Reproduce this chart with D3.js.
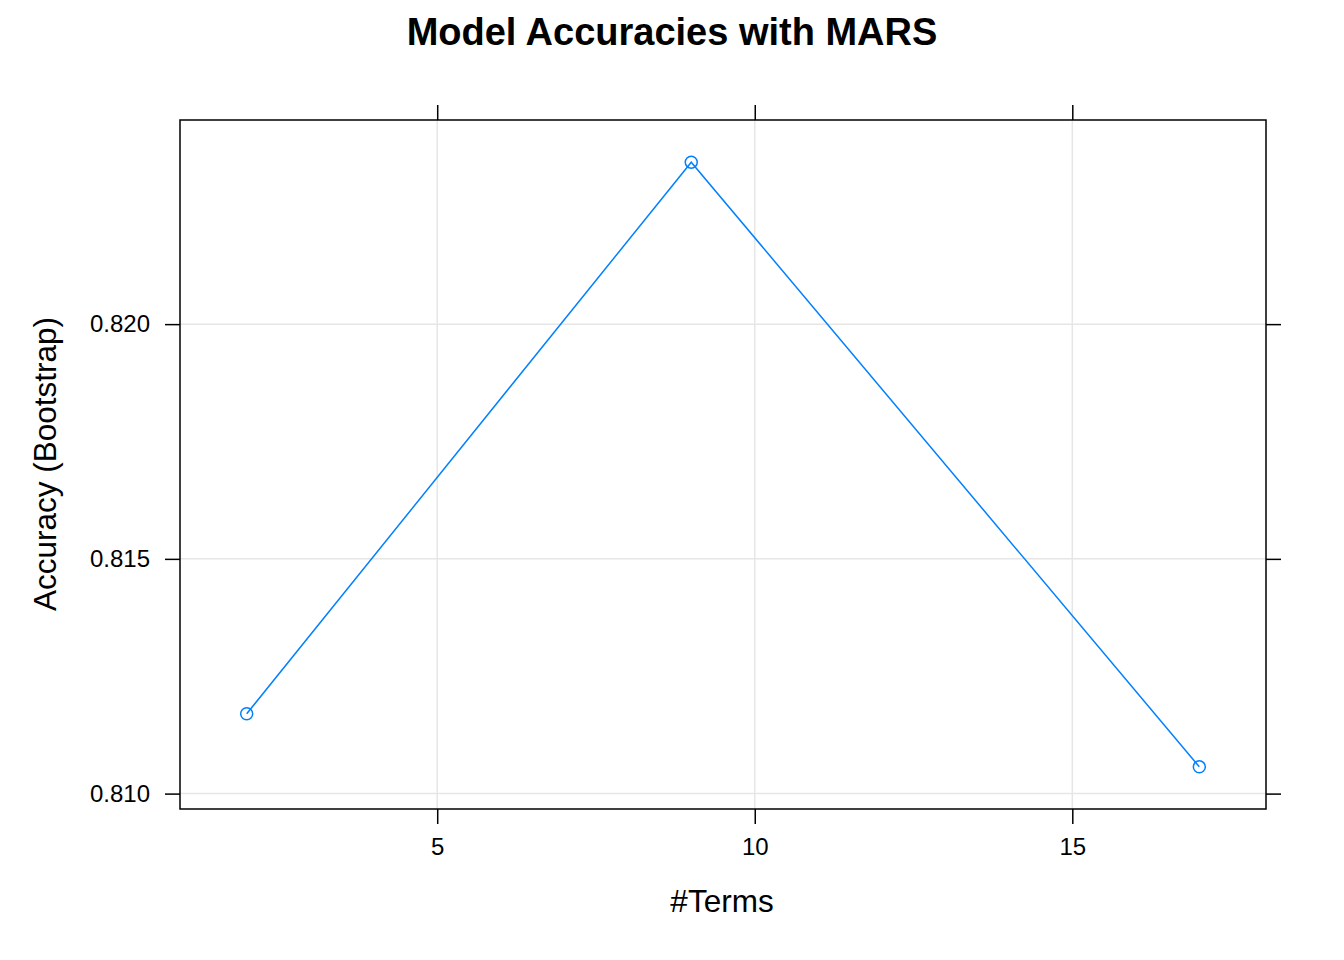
<!DOCTYPE html>
<html><head><meta charset="utf-8">
<script src="https://cdn.jsdelivr.net/npm/d3@7"></script>
<style>body{margin:0;background:#fff}svg{display:block}text{font-family:"Liberation Sans",Arial,sans-serif}</style>
</head><body><svg id="c" width="1344" height="960"></svg>
<script>
const terms = [2, 9, 17];
const accuracy = [0.81170, 0.82345, 0.81057];
const xTicks = [5, 10, 15];
const yTicks = [0.810, 0.815, 0.820];
const title = "Model Accuracies with MARS";
const xLabel = "#Terms";
const yLabel = "Accuracy (Bootstrap)";

const svg = d3.select("#c");
const L = 180, R = 1266, T = 120, B = 809;
const x = d3.scaleLinear().domain([0.95, 18.05]).range([L, R]);
const y = d3.scaleLinear().domain([0.809672, 0.824348]).range([B, T]);

// grid
svg.append("g").selectAll("line").data(xTicks).join("line")
  .attr("x1", d => x(d)).attr("x2", d => x(d)).attr("y1", T).attr("y2", B)
  .attr("stroke", "#e6e6e6").attr("stroke-width", 1.5);
svg.append("g").selectAll("line").data(yTicks).join("line")
  .attr("y1", d => y(d)).attr("y2", d => y(d)).attr("x1", L).attr("x2", R)
  .attr("stroke", "#e6e6e6").attr("stroke-width", 1.5);

// axes
const fmt = d3.format(".3f");
const FF = '"Liberation Sans",Arial,sans-serif';
const ax = g => g.call(s => s.select(".domain").remove()).call(s => s.selectAll("line").attr("stroke", "#000").attr("stroke-width", 1.5));
svg.append("g").attr("transform", `translate(0,${B})`)
  .call(d3.axisBottom(x).tickValues(xTicks).tickSize(15).tickPadding(14).tickFormat(d3.format("d")))
  .call(ax).selectAll("text").attr("font-size", 24).attr("fill", "#000").attr("font-family", FF);
svg.append("g").attr("transform", `translate(0,${T})`)
  .call(d3.axisTop(x).tickValues(xTicks).tickSize(15).tickFormat(""))
  .call(ax);
svg.append("g").attr("transform", `translate(${L},0)`)
  .call(d3.axisLeft(y).tickValues(yTicks).tickSize(15).tickPadding(15).tickFormat(fmt))
  .call(ax).selectAll("text").attr("font-size", 24).attr("fill", "#000").attr("font-family", FF);
svg.append("g").attr("transform", `translate(${R},0)`)
  .call(d3.axisRight(y).tickValues(yTicks).tickSize(15).tickFormat(""))
  .call(ax);

svg.append("rect").attr("x", L).attr("y", T).attr("width", R - L).attr("height", B - T)
  .attr("fill", "none").attr("stroke", "#000").attr("stroke-width", 1.5);

// data
const pts = terms.map((t, i) => [t, accuracy[i]]);
svg.append("path").datum(pts)
  .attr("d", d3.line().x(d => x(d[0])).y(d => y(d[1])))
  .attr("fill", "none").attr("stroke", "#0080ff").attr("stroke-width", 1.5);
svg.append("g").selectAll("circle").data(pts).join("circle")
  .attr("cx", d => x(d[0])).attr("cy", d => y(d[1])).attr("r", 6)
  .attr("fill", "none").attr("stroke", "#0080ff").attr("stroke-width", 1.5);

// labels
svg.append("text").attr("x", 672).attr("y", 45).attr("text-anchor", "middle")
  .attr("font-size", 38).attr("font-weight", "bold").text(title);
svg.append("text").attr("x", 722).attr("y", 912).attr("text-anchor", "middle")
  .attr("font-size", 31.5).text(xLabel);
svg.append("text").attr("transform", "translate(56,464) rotate(-90)").attr("text-anchor", "middle")
  .attr("font-size", 31.5).text(yLabel);
</script></body></html>
